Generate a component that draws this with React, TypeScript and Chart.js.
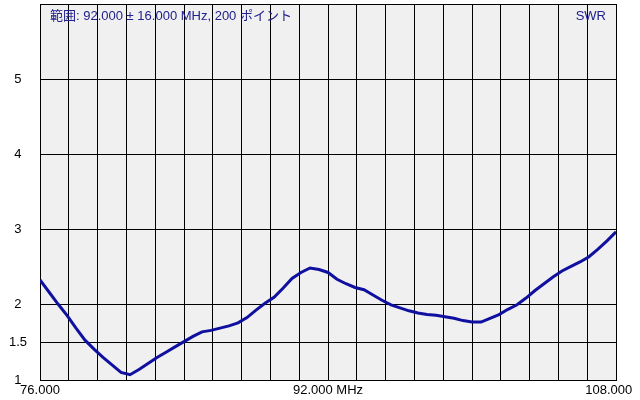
import React, { useEffect, useRef } from "react";
import { Chart, registerables } from "chart.js";

Chart.register(...registerables);

const TITLE = "範囲: 92.000 ± 16.000 MHz, 200 ポイント";
const SERIES_NAME = "SWR";

const freqs: number[] = [
  76.0, 76.5, 77.0, 77.5, 78.0, 78.5, 79.0, 79.5, 80.0, 80.5, 81.0, 81.5, 82.0,
  82.5, 83.0, 83.5, 84.0, 84.5, 85.0, 85.5, 86.0, 86.5, 87.0, 87.5, 88.0, 88.5,
  89.0, 89.5, 90.0, 90.5, 91.0, 91.5, 92.0, 92.5, 93.0, 93.5, 94.0, 94.5, 95.0,
  95.5, 96.0, 96.5, 97.0, 97.5, 98.0, 98.5, 99.0, 99.5, 100.0, 100.5, 101.0,
  101.5, 102.0, 102.5, 103.0, 103.5, 104.0, 104.5, 105.0, 105.5, 106.0, 106.5,
  107.0, 107.5, 108.0,
];

const swr: number[] = [
  2.33, 2.17, 2.01, 1.86, 1.69, 1.53, 1.41, 1.3, 1.2, 1.1, 1.07, 1.14, 1.22,
  1.3, 1.37, 1.44, 1.51, 1.58, 1.64, 1.66, 1.69, 1.72, 1.76, 1.83, 1.93, 2.02,
  2.1, 2.22, 2.35, 2.43, 2.49, 2.47, 2.43, 2.34, 2.28, 2.23, 2.2, 2.13, 2.06,
  2.0, 1.96, 1.92, 1.89, 1.87, 1.86, 1.84, 1.82, 1.79, 1.77, 1.77, 1.82, 1.87,
  1.94, 2.0, 2.09, 2.19, 2.28, 2.37, 2.45, 2.51, 2.57, 2.64, 2.74, 2.85, 2.97,
];

const X_MIN = 76;
const X_MAX = 108;
const X_DIVISIONS = 20;
const xTickLabels: Record<number, string> = {
  0: "76.000",
  10: "92.000 MHz",
  20: "108.000    ",
};

const yTickValues: number[] = [1, 1.5, 2, 3, 4, 5, 6];
const yTickLabels: string[] = ["1", "1.5", "2", "3", "4", "5", ""];

const FONT_FAMILY = '"Liberation Sans", "Noto Sans CJK JP", sans-serif';

export default function App() {
  const canvasRef = useRef<HTMLCanvasElement | null>(null);

  useEffect(() => {
    document.body.style.margin = "0";
    document.body.style.background = "#ffffff";
    const canvas = canvasRef.current;
    if (!canvas) return;

    const bgPlugin = {
      id: "plotBg",
      beforeDraw(chart: any) {
        const { ctx, chartArea } = chart;
        ctx.save();
        ctx.fillStyle = "#f0f0f0";
        ctx.fillRect(
          chartArea.left,
          chartArea.top,
          chartArea.right - chartArea.left,
          chartArea.bottom - chartArea.top
        );
        ctx.restore();
      },
    };

    const titlePlugin = {
      id: "innerTitles",
      afterDatasetsDraw(chart: any) {
        const { ctx, chartArea } = chart;
        ctx.save();
        ctx.font = `13px ${FONT_FAMILY}`;
        ctx.fillStyle = "#20208c";
        ctx.textBaseline = "middle";
        ctx.textAlign = "left";
        ctx.fillText(TITLE, chartArea.left + 10, chartArea.top + 12);
        ctx.textAlign = "right";
        ctx.fillText(SERIES_NAME, chartArea.right - 10, chartArea.top + 12);
        ctx.restore();
      },
    };

    const chart = new Chart(canvas, {
      type: "line",
      data: {
        datasets: [
          {
            label: SERIES_NAME,
            data: freqs.map((f, i) => ({ x: f, y: swr[i] })),
            borderColor: "#1010a0",
            borderWidth: 3,
            pointRadius: 0,
            tension: 0,
            fill: false,
          },
        ],
      },
      options: {
        animation: false,
        responsive: false,
        maintainAspectRatio: false,
        layout: { padding: { top: 4, right: 24, left: 0, bottom: 0 } },
        plugins: {
          legend: { display: false },
          title: { display: false },
          tooltip: { enabled: false },
        },
        scales: {
          x: {
            type: "linear",
            min: X_MIN,
            max: X_MAX,
            afterBuildTicks(scale: any) {
              const ticks = [];
              for (let i = 0; i <= X_DIVISIONS; i++) {
                ticks.push({ value: X_MIN + ((X_MAX - X_MIN) * i) / X_DIVISIONS });
              }
              scale.ticks = ticks;
            },
            afterFit(scale: any) {
              scale.height = 20;
              scale.paddingLeft = 0;
              scale.paddingRight = 0;
            },
            ticks: {
              autoSkip: false,
              maxRotation: 0,
              minRotation: 0,
              padding: 3,
              color: "#000000",
              font: { family: FONT_FAMILY, size: 13 },
              callback: (_v: any, index: number) => xTickLabels[index] ?? "",
            },
            grid: {
              color: "#000000",
              lineWidth: 1,
              drawTicks: false,
            },
            border: { color: "#000000", width: 1 },
          },
          y: {
            type: "linear",
            min: 1,
            max: 6,
            afterBuildTicks(scale: any) {
              scale.ticks = yTickValues.map((v) => ({ value: v }));
            },
            afterFit(scale: any) {
              scale.width = 40;
              scale.paddingTop = 0;
              scale.paddingBottom = 0;
            },
            ticks: {
              autoSkip: false,
              padding: 13,
              crossAlign: "center",
              color: "#000000",
              font: { family: FONT_FAMILY, size: 13 },
              callback: (_v: any, index: number) => yTickLabels[index] ?? "",
            },
            grid: {
              color: "#000000",
              lineWidth: 1,
              drawTicks: false,
            },
            border: { color: "#000000", width: 1 },
          },
        },
      },
      plugins: [bgPlugin, titlePlugin],
    });

    return () => {
      chart.destroy();
    };
  }, []);

  return (
    <div style={{ width: 640, height: 400, background: "#ffffff" }}>
      <canvas ref={canvasRef} width={640} height={400} />
    </div>
  );
}
